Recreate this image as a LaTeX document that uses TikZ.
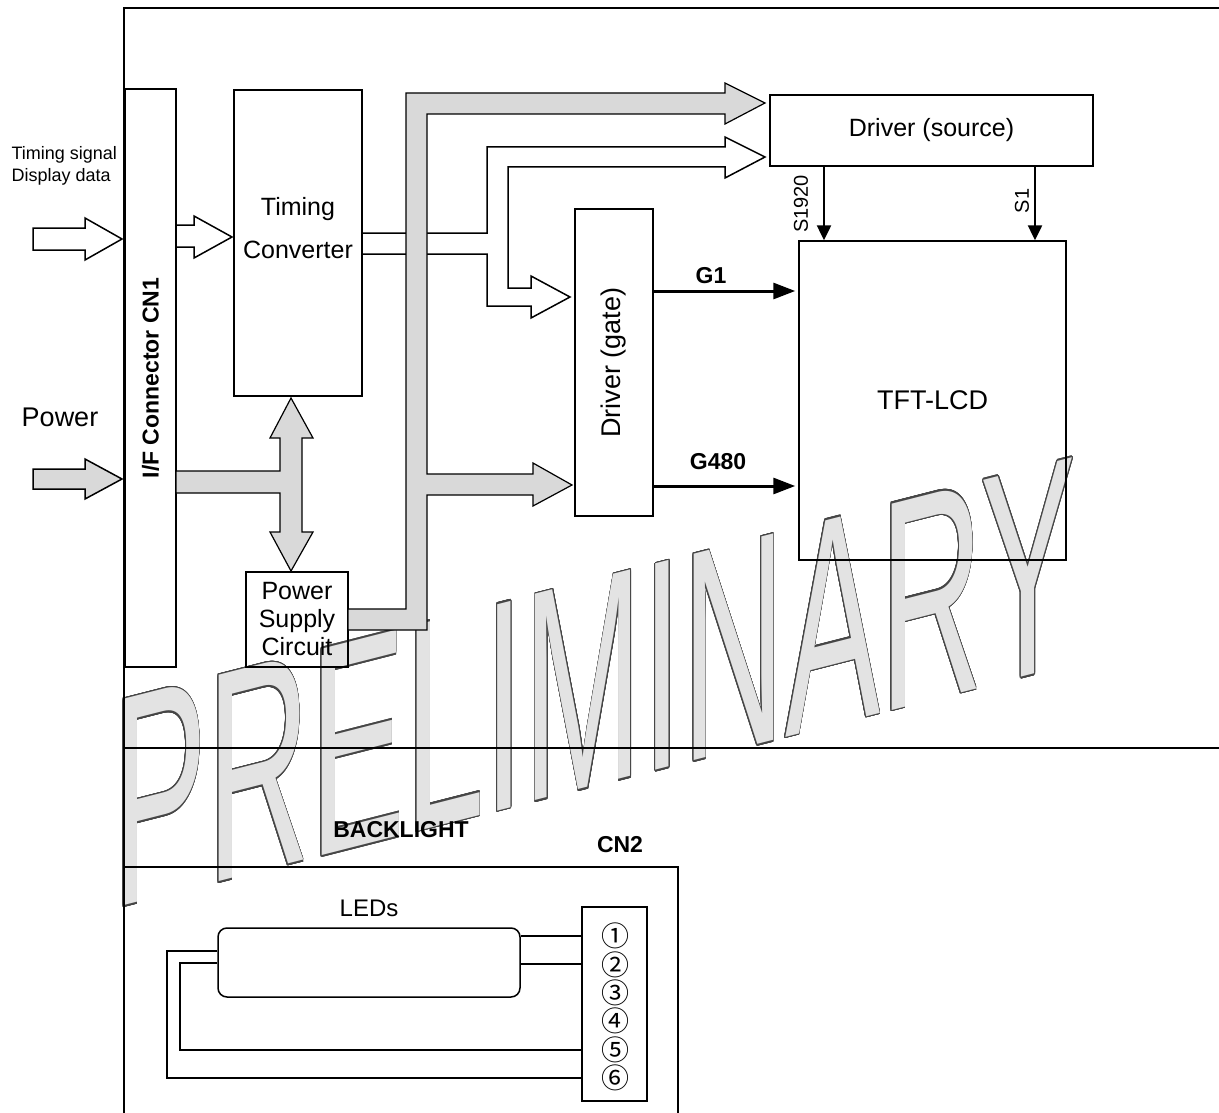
\documentclass[tikz,border=0pt]{standalone}
\usepackage{fontspec}
\setmainfont{Liberation Sans}
\newfontfamily\circfont{Noto Sans CJK JP}
\usepackage{contour}
\contourlength{1.6pt}
\contournumber{24}
\usetikzlibrary{arrows.meta}
\tikzset{
  blk/.style    = {draw, line width=1.5pt, inner sep=0pt, align=center},
  hollow/.style = {draw, line width=1.5pt, line join=miter},
  bus/.style    = {draw, line width=1.2pt, fill=gray!30, line join=miter},
  gsig/.style   = {line width=3pt, -{Triangle[length=22pt,width=16pt]}},
  ssig/.style   = {line width=2.5pt, -{Triangle[length=15pt,width=14pt]}},
  wire/.style   = {line width=2pt},
  frame/.style  = {line width=1.5pt},
}
\newcommand{\fs}[1]{\fontsize{#1}{1.15\dimexpr#1pt\relax}\selectfont}

\begin{document}
\begin{tikzpicture}[x=1pt,y=1pt,font=\fs{24}]
\useasboundingbox (0,0) rectangle (1219,-1113);
% watermark, drawn first so that everything lies on top of it
\begin{scope}[shift={(112,-909)},yslant=0.255,xscale=0.475]
\node[transform shape,anchor=base west,inner sep=0pt,font=\fontsize{300}{300}\selectfont] (wm) at (0,0)
  {\color{gray!22}\contour{gray!55!black}{PRELIMINARY}};
\end{scope}
% frame
\draw[frame] (1219,-8) -- (124,-8) -- (124,-1113);
\draw[frame] (124,-748) -- (1219,-748);
% blocks
\node[blk,rotate=90,minimum width=578pt,minimum height=51pt,font=\bfseries\fs{23}] (cn1) at (150.5,-378) {I/F Connector CN1};
\node[blk,minimum width=128pt,minimum height=306pt] (tc) at (298,-243) {};
\node[align=center,font=\fontsize{25}{43}\selectfont] (tctext) at (298,-228) {Timing\\Converter};
\node[blk,minimum width=102pt,minimum height=95pt,font=\fontsize{25}{28}\selectfont] (psc) at (297,-619.5) {Power\\Supply\\Circuit};
\node[blk,minimum width=323pt,minimum height=71pt,font=\fs{25}] (ds) at (931.5,-130.5) {Driver (source)};
\node[blk,rotate=90,minimum width=307pt,minimum height=78pt,font=\fs{27}] (dg) at (614,-362.5) {Driver (gate)};
\node[blk,minimum width=267pt,minimum height=319pt,font=\fs{27}] (lcd) at (932.5,-400.5) {TFT-LCD};
% left labels
\node[align=left,anchor=west,font=\fontsize{18}{22}\selectfont] (tsig) at (8,-166) {Timing signal\\Display data};
\node[font=\fs{27}] (pwr) at (60,-417) {Power};
% input arrows
\draw[hollow] (33,-228) -- (85,-228) -- (85,-218) -- (122,-239) -- (85,-260) -- (85,-250) -- (33,-250) -- cycle;
\draw[bus,line width=1.5pt] (33,-469) -- (85,-469) -- (85,-459) -- (122,-479) -- (85,-499) -- (85,-489) -- (33,-489) -- cycle;
\draw[hollow] (176,-225) -- (194,-225) -- (194,-216) -- (232,-237) -- (194,-258) -- (194,-247) -- (176,-247);
% timing converter outputs to both drivers
\draw[hollow] (362,-233) -- (487,-233) -- (487,-147) -- (725,-147) -- (725,-137) -- (765,-157)
  -- (725,-178) -- (725,-167) -- (508,-167) -- (508,-288) -- (531,-288) -- (531,-276) -- (570,-297)
  -- (531,-318) -- (531,-306) -- (487,-306) -- (487,-254) -- (362,-254);
% power from CN1 to timing converter and power supply
\draw[bus] (176,-471) -- (280,-471) -- (280,-438) -- (270,-438) -- (291,-398) -- (313,-438) -- (302,-438)
  -- (302,-532) -- (313,-532) -- (291,-571) -- (270,-532) -- (280,-532) -- (280,-493) -- (176,-493) -- cycle;
% power bus from power supply to drivers
\draw[bus] (348,-609) -- (406,-609) -- (406,-93) -- (725,-93) -- (725,-83) -- (765,-103) -- (725,-124)
  -- (725,-114) -- (427,-114) -- (427,-474) -- (533,-474) -- (533,-463) -- (572,-485) -- (533,-506)
  -- (533,-495) -- (427,-495) -- (427,-630) -- (348,-630) -- cycle;
% gate and source lines
\coordinate (g1y) at (700,-291);
\coordinate (g480y) at (700,-486);
\coordinate (s1920x) at (824,0);
\coordinate (s1x) at (1035,0);
\draw[gsig] (dg.south |- g1y) -- ([xshift=-3pt]lcd.west |- g1y);
\draw[gsig] (dg.south |- g480y) -- ([xshift=-3pt]lcd.west |- g480y);
\node[font=\bfseries\fs{23}] (g1lbl) at (711,-276) {G1};
\node[font=\bfseries\fs{23}] (g480lbl) at (718,-462) {G480};
\draw[ssig] (ds.south -| s1920x) -- (lcd.north -| s1920x);
\draw[ssig] (ds.south -| s1x) -- (lcd.north -| s1x);
\node[rotate=90,font=\fs{20}] (s1920lbl) at (801,-204) {S1920};
\node[rotate=90,font=\fs{20}] (s1lbl) at (1022,-201) {S1};
% backlight
\node[font=\bfseries\fs{23}] (bl) at (401,-830) {BACKLIGHT};
\node[font=\bfseries\fs{23}] (cn2) at (620,-845) {CN2};
\draw[frame] (124,-867) -| (678,-1113);
\node[font=\fs{24}] (ledlbl) at (369,-908) {LEDs};
\node[draw,line width=1.5pt,rounded corners=9pt,minimum width=302pt,minimum height=69pt] (led) at (369,-962.5) {};
\node[blk,minimum width=65pt,minimum height=194pt] (con) at (614.5,-1004) {};
\foreach \g [count=\i] in {①,②,③,④,⑤,⑥}
  \node[font=\circfont\fs{28}] (p\i) at (615,{-936-28.4*(\i-1)}) {\g};
\draw[wire] (p1 -| led.east) -- (p1 -| con.west);
\draw[wire] (p2 -| led.east) -- (p2 -| con.west);
\coordinate (w6) at (167,-951);
\coordinate (w5) at (180,-963);
\draw[wire] (led.west |- w6) -- (w6) |- (p6 -| con.west);
\draw[wire] (led.west |- w5) -- (w5) |- (p5 -| con.west);
\end{tikzpicture}
\end{document}
